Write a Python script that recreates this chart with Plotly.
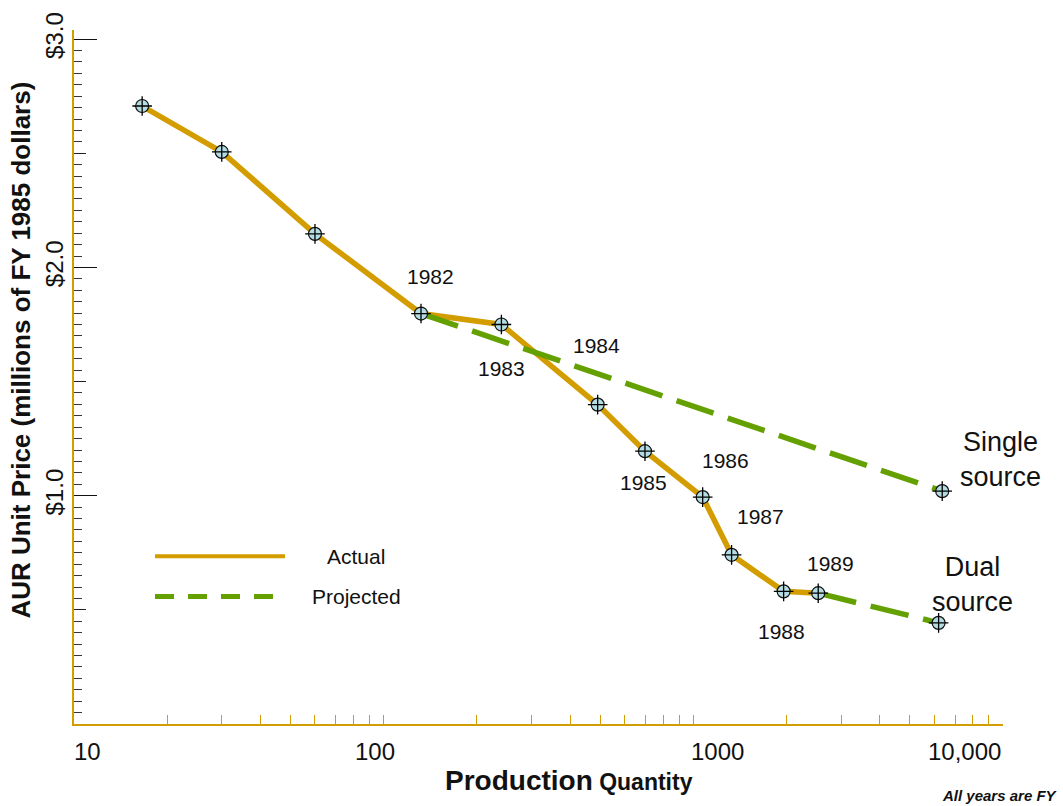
import math
import plotly.graph_objects as go

# Production quantity (cumulative units) and unit price (millions of FY1985 $)
actual_qty = [16.6, 30, 60, 132, 240, 491, 698, 1072, 1329, 1957, 2531]
actual_price = [2.707, 2.506, 2.147, 1.798, 1.750, 1.399, 1.195, 0.994, 0.741, 0.581, 0.573]

single_qty = [132, 6364]
single_price = [1.798, 1.020]

dual_qty = [2531, 6195]
dual_price = [0.573, 0.443]

# Fiscal-year labels attached to the actual points (index into actual arrays)
year_labels = ["1982", "1983", "1984", "1985", "1986", "1987", "1988", "1989"]
year_index = [3, 4, 5, 6, 7, 8, 9, 10]
# pixel offsets of each label from its point (dx, dy with +dy = up)
year_offsets = [(9, 37), (0, -44), (-1, 59), (-1, -31), (23, 37), (29, 38), (-2, -40), (12, 30)]

x_major = [10, 100, 1000, 10000]
x_major_text = ["10", "100", "1000", "10,000"]
x_minor = [m * d for d in (10, 100, 1000) for m in range(2, 10)]

y_major = [1.0, 2.0, 3.0]
y_major_text = ["$1.0", "$2.0", "$3.0"]
y_half = [0.5, 1.5, 2.5]

GOLD = "#D39D00"
GREEN = "#63A000"
FILL = "#B3DDE3"
FONT = "Liberation Sans, Arial, sans-serif"

W, H = 1063, 806
L, R, T, B = 74, 60, 27, 82
PW, PH = W - L - R, H - T - B


def px(xp):
    return (xp - L) / PW


def py(yp):
    return (H - B - yp) / PH


fig = go.Figure()

fig.add_trace(go.Scatter(x=actual_qty, y=actual_price, mode="lines",
                         line=dict(color=GOLD, width=5.5), hoverinfo="skip"))
fig.add_trace(go.Scatter(x=single_qty, y=single_price, mode="lines",
                         line=dict(color=GREEN, width=5.5, dash="39px,15px"), hoverinfo="skip"))
fig.add_trace(go.Scatter(x=dual_qty, y=dual_price, mode="lines",
                         line=dict(color=GREEN, width=5.5, dash="39px,15px"), hoverinfo="skip"))

# crosshair markers: filled circle with a thin cross on top
all_qty = actual_qty + [single_qty[-1], dual_qty[-1]]
all_price = actual_price + [single_price[-1], dual_price[-1]]
fig.add_trace(go.Scatter(x=all_qty, y=all_price, mode="markers",
                         marker=dict(symbol="circle", size=13, color=FILL,
                                     line=dict(color="#111", width=1.2)),
                         hoverinfo="skip"))
fig.add_trace(go.Scatter(x=all_qty, y=all_price, mode="markers",
                         marker=dict(symbol="cross-thin", size=14,
                                     line=dict(color="#000", width=1.3)),
                         hoverinfo="skip"))

# invisible trace to carry the half-unit ticks on an overlay axis
fig.add_trace(go.Scatter(x=[actual_qty[0]], y=[actual_price[0]], yaxis="y2",
                         mode="markers", marker=dict(opacity=0), hoverinfo="skip"))

annotations = []
for text, idx, (dx, dy) in zip(year_labels, year_index, year_offsets):
    annotations.append(dict(x=math.log10(actual_qty[idx]), y=actual_price[idx],
                            xref="x", yref="y", text=text, showarrow=False,
                            xanchor="center", yanchor="middle",
                            xshift=dx, yshift=dy,
                            font=dict(family=FONT, size=21, color="#111")))

annotations.append(dict(x=math.log10(single_qty[-1]), y=single_price[-1], xref="x", yref="y",
                        text="Single<br>source", showarrow=False, xshift=58, yshift=32,
                        xanchor="center", yanchor="middle",
                        font=dict(family=FONT, size=27, color="#111")))
annotations.append(dict(x=math.log10(dual_qty[-1]), y=dual_price[-1], xref="x", yref="y",
                        text="Dual<br>source", showarrow=False, xshift=34, yshift=38,
                        xanchor="center", yanchor="middle",
                        font=dict(family=FONT, size=27, color="#111")))

# x tick labels
label_pos = [("left", -2), ("center", -9), ("center", 24), ("right", 0)]
for v, t, (anc, sh) in zip(x_major, x_major_text, label_pos):
    annotations.append(dict(x=math.log10(v), y=py(752), xref="x", yref="paper", text=t,
                            showarrow=False, xanchor=anc, xshift=sh, yanchor="middle",
                            font=dict(family=FONT, size=24, color="#111")))

# axis titles
annotations.append(dict(x=px(569), y=py(781), xref="paper", yref="paper",
                        text="<b><span style='font-size:28px'>Production</span> Quantity</b>",
                        showarrow=False, xanchor="center", yanchor="middle",
                        font=dict(family=FONT, size=23, color="#111")))
annotations.append(dict(x=px(21), y=py(349), xref="paper", yref="paper",
                        text="<b>AUR Unit Price (millions of FY 1985 dollars)</b>",
                        textangle=-90, showarrow=False, xanchor="center", yanchor="middle",
                        font=dict(family=FONT, size=26, color="#111")))
annotations.append(dict(x=px(1060), y=py(796), xref="paper", yref="paper",
                        text="<b><i>All years are FY</i></b>", showarrow=False,
                        xanchor="right", yanchor="middle",
                        font=dict(family=FONT, size=15, color="#111")))

# legend
annotations.append(dict(x=px(356), y=py(556), xref="paper", yref="paper", text="Actual",
                        showarrow=False, xanchor="center", yanchor="middle",
                        font=dict(family=FONT, size=21, color="#111")))
annotations.append(dict(x=px(356), y=py(596), xref="paper", yref="paper", text="Projected",
                        showarrow=False, xanchor="center", yanchor="middle",
                        font=dict(family=FONT, size=21, color="#111")))

shapes = [
    dict(type="line", xref="paper", yref="paper", x0=px(155), x1=px(285),
         y0=py(555.5), y1=py(555.5), line=dict(color=GOLD, width=4)),
    dict(type="line", xref="paper", yref="paper", x0=px(155), x1=px(274),
         y0=py(596), y1=py(596), line=dict(color=GREEN, width=5, dash="19px,14px")),
]

fig.update_layout(
    width=W, height=H,
    margin=dict(l=L, r=R, t=T, b=B, pad=0),
    paper_bgcolor="white", plot_bgcolor="white",
    showlegend=False,
    annotations=annotations,
    shapes=shapes,
    xaxis=dict(type="log", range=[1, 4], showgrid=False, zeroline=False,
               showline=True, linecolor=GOLD, linewidth=1.5,
               tickvals=x_major + x_minor, ticktext=[""] * (len(x_major) + len(x_minor)),
               ticks="inside", ticklen=9, tickcolor=GOLD, tickwidth=1.3),
    yaxis=dict(range=[0, 3.04], showgrid=False, zeroline=False,
               showline=True, linecolor=GOLD, linewidth=1.5,
               tickvals=y_major, ticktext=y_major_text, tickangle=-90,
               ticks="inside", ticklen=23, tickcolor="#111", tickwidth=1.3,
               tickfont=dict(family=FONT, size=24, color="#111"),
               minor=dict(ticks="inside", dtick=0.05, tick0=0, ticklen=8,
                          tickcolor="#333", tickwidth=1.2)),
    yaxis2=dict(range=[0, 3.04], overlaying="y", side="left", anchor="x",
                showgrid=False, zeroline=False, showline=False,
                tickvals=y_half, ticks="inside", ticklen=12, tickcolor="#222",
                tickwidth=1.2, showticklabels=False),
)

fig.write_html("out.html")
